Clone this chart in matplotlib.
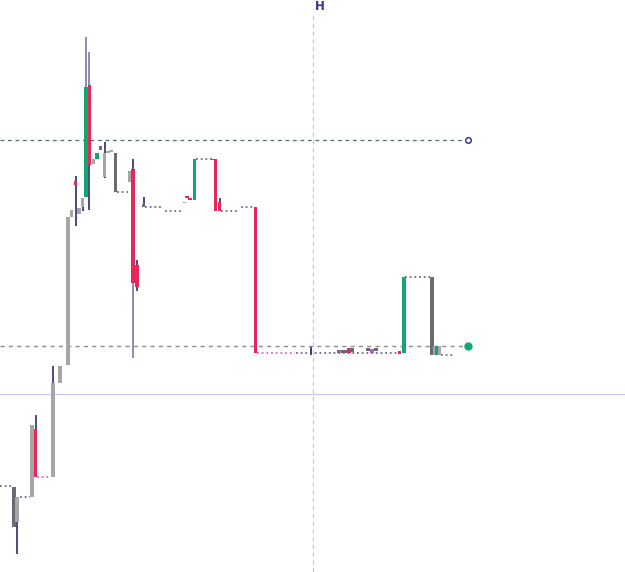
import matplotlib
matplotlib.use("Agg")
import matplotlib.pyplot as plt

# ---- data (time index, prices) ----
cand_t   = [14, 17, 32, 35.5, 53, 60, 68, 71.5, 75.5, 79, 82.5, 86, 89.3, 93.3, 97, 100.3,
            104.5, 108, 111, 115.5, 129.5, 133, 137, 143.5, 184.5, 187, 190, 194.7, 213,
            215.5, 219.5, 255.5, 311, 339, 341, 343, 345, 349, 352, 368, 372, 376,
            399.5, 404, 432, 434.5, 436.5, 439.5]
cand_top = [113, 103, 175, 171, 217, 234, 383, 390, 419, 392, 402, 513, 515, 441, 447, 454,
            447, 449, 450, 447, 429, 431, 335, 396, 398, 404, 402, 441, 441,
            441, 398, 393, 251, 250, 250, 250, 250, 252, 252, 252, 251, 252,
            249, 323, 323, 254, 254, 254]
cand_bot = [73, 78, 103, 123, 123, 217, 235, 383, 415, 386, 393, 403, 435, 436, 441, 450,
            423, 447, 448, 408, 418, 317, 313, 393, 397, 402, 400, 400, 440,
            389, 389, 247, 247, 247, 247, 247, 247, 247, 248, 249, 247, 249,
            246, 247, 245, 245, 245, 245]
wick_hi  = [113, 103, 175, 185, 234, 234, 383, 390, 424, 392, 402, 563, 548, 441, 447, 454,
            458, 449, 450, 447, 429, 441, 340, 403, 398, 404, 402, 441, 441,
            441, 402, 393, 253, 250, 250, 250, 250, 252, 252, 252, 251, 252,
            249, 323, 323, 254, 254, 254]
wick_lo  = [73, 46, 103, 123, 123, 217, 235, 383, 374, 386, 389, 403, 390, 436, 441, 450,
            422, 447, 448, 408, 418, 242, 309, 393, 397, 402, 400, 400, 440,
            389, 389, 247, 245, 247, 247, 247, 247, 247, 248, 249, 247, 249,
            246, 247, 245, 245, 245, 245]
cand_kind = ['d', 'l', 'l', 'r', 'l', 'l', 'l', 'l', 'r', 'l', 'l', 'g', 'r', 'l', 'g', 'd',
             'l', 'l', 'l', 'd', 'l', 'r', 'r', 'd', 'l', 'r', 'r', 'g', 'r',
             'r', 'r', 'r', 'n', 'd', 'p', 'd', 'd', 'r', 'd', 'd', 'p', 'd',
             'r', 'g', 'd', 'l', 'g', 'l']

flat_start = [0, 20, 37, 117, 145, 165, 196, 221, 241, 257, 296, 405, 441]
flat_end   = [12, 30, 50, 128, 162, 181, 213, 239, 253, 295, 398, 430, 455]
flat_price = [114, 103, 123, 408, 393, 389, 441, 389, 393, 247, 247, 323, 245]
flat_kind  = ['n', 'n', 'p', 'n', 'n', 'n', 'n', 'n', 'n', 'p', 'n', 'n', 'n']

level_hi = 460      # upper dashed level (hollow marker)
level_lo = 254      # lower dashed level (green marker)
level_line = 206    # lavender horizontal line
level_end = 466
vline_t = 313

colors = {'g': '#10a870', 'r': '#e8265a', 'l': '#a6a6a8', 'd': '#6a6a74',
          'n': '#3a3a78', 'p': '#b060d0'}
wick_col = '#2e2a66'
wick_long = '#7a78a8'
dot_cols = {'n': '#6e6e8e', 'p': '#d070b8'}

fig = plt.figure(figsize=(6.25, 5.72), dpi=100)
ax = fig.add_axes([0, 0, 1, 1])
ax.set_xlim(0, 625)
ax.set_ylim(28, 600)
ax.axis('off')

# reference lines
ax.axhline(level_line, color='#c8c8f4', lw=0.9, zorder=1)
ax.axvline(vline_t, ymax=(588 - 28) / 572, color='#c4c4c4', lw=0.8, ls=(0, (4, 3)), zorder=1)
ax.plot([0, level_end], [level_hi, level_hi], color='#4e6e6e', lw=0.9, ls=(0, (3, 3)), zorder=2)
ax.plot([0, level_end], [level_lo, level_lo], color='#86928f', lw=1.0, ls=(0, (3, 3)), zorder=2)
ax.plot([level_end + 2], [level_hi], marker='o', ms=4, mfc='white', mec='#3a3a8c', mew=1.1, zorder=5)
ax.plot([level_end + 2], [level_lo], marker='o', ms=5, mfc='#10a870', mec='#10a870', zorder=5)
ax.text(vline_t + 2, 600 - 6, 'H', color='#34348a', fontsize=8.5, fontweight='bold',
        va='center', ha='left', family='DejaVu Sans')

# flat dotted segments
for s, e, p, k in zip(flat_start, flat_end, flat_price, flat_kind):
    ax.plot([s, e], [p, p], color=dot_cols[k], lw=1.3, ls=(0, (1, 1.6)), zorder=3)

# candles
for t, top, bot, hi, lo, k in zip(cand_t, cand_top, cand_bot, wick_hi, wick_lo, cand_kind):
    if hi > top:
        ax.plot([t, t], [top, hi], color=wick_long if hi - top > 30 else wick_col,
                lw=1.2, zorder=3, solid_capstyle='butt')
    if lo < bot:
        ax.plot([t, t], [lo, bot], color=wick_long if bot - lo > 60 else wick_col,
                lw=1.2, zorder=3, solid_capstyle='butt')
    h = max(top - bot, 1.5)
    w = 3.2 if k != 'n' else 1.4
    ax.bar(t, h, bottom=bot, width=w, color=colors[k], linewidth=0, zorder=4)

fig.savefig('out.png', dpi=100, facecolor='white')
